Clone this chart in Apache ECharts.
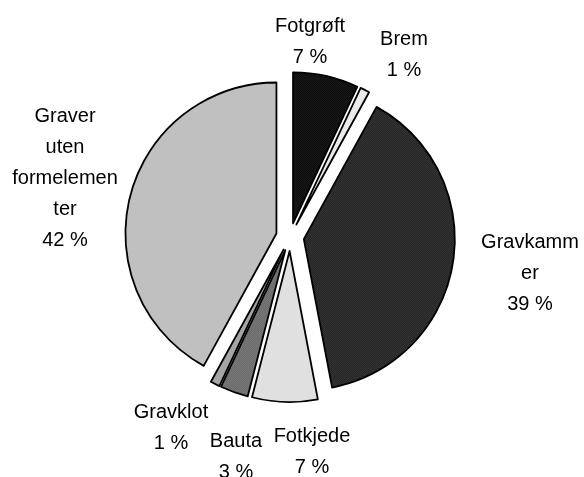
<!DOCTYPE html>
<html>
<head>
<meta charset="utf-8">
<script src="https://cdn.jsdelivr.net/npm/echarts@6/dist/echarts.min.js"></script>
<style>
  html, body { margin: 0; padding: 0; background: #fff; }
  #chart { width: 584px; height: 477px; }
</style>
</head>
<body>
<div id="chart"></div>
<script>
// data
var names = ["Fotgrøft", "Brem", "Gravkamm\ner", "Fotkjede", "Bauta", "Gravklot", "Graver\nuten\nformelemen\nter"];
var values = [7, 1, 39, 7, 3, 1, 42];

// two-tone dot patterns (base, dots) per slice
var patternColors = [
  ["#000000", "#262626"],
  ["#ffffff", "#d6d6d6"],
  ["#1c1c1c", "#3c3c3c"],
  ["#d0d0d0", "#f0f0f0"],
  ["#5a5a5a", "#8a8a8a"],
  ["#8e8e8e", "#bcbcbc"],
  ["#aeaeae", "#d2d2d2"]
];

// label centres (px)
var labelAt = [
  [310, 42], [404, 55], [530, 273], [312, 452], [236, 457], [171, 428], [65, 178]
];

function makePattern(c) {
  var cv = document.createElement("canvas");
  cv.width = 2;
  cv.height = 2;
  var ctx = cv.getContext("2d");
  ctx.fillStyle = c[0];
  ctx.fillRect(0, 0, 2, 2);
  ctx.fillStyle = c[1];
  ctx.fillRect(0, 0, 1, 1);
  ctx.fillRect(1, 1, 1, 1);
  return { image: cv, repeat: "repeat" };
}

var myChart = echarts.init(document.getElementById("chart"));

var sliceData = names.map(function (n, i) {
  return {
    name: n,
    value: values[i],
    selected: true,
    itemStyle: { color: makePattern(patternColors[i]) }
  };
});

// same values, only carries the labels
var labelData = names.map(function (n, i) {
  return { name: n, value: values[i] };
});

var option = {
  backgroundColor: "#fff",
  animation: false,
  series: [
    {
      // exploded slices
      type: "pie",
      center: [290, 237],
      radius: 151,
      startAngle: 90,
      clockwise: true,
      selectedMode: "multiple",
      selectedOffset: 14,
      silent: true,
      data: sliceData,
      itemStyle: {
        borderColor: "#000",
        borderWidth: 1.8
      },
      label: { show: false },
      labelLine: { show: false }
    },
    {
      // labels
      type: "pie",
      center: [290, 237],
      radius: 151,
      startAngle: 90,
      clockwise: true,
      silent: true,
      avoidLabelOverlap: false,
      data: labelData,
      itemStyle: { color: "rgba(0,0,0,0)", borderWidth: 0 },
      label: {
        show: true,
        formatter: "{b}\n{c} %",
        fontFamily: "Liberation Sans, Arial, sans-serif",
        fontSize: 20,
        lineHeight: 31,
        color: "#000"
      },
      labelLine: { show: false },
      labelLayout: function (params) {
        var p = labelAt[params.dataIndex];
        return { x: p[0], y: p[1], align: "center", verticalAlign: "middle" };
      }
    }
  ]
};

myChart.setOption(option);
</script>
</body>
</html>
